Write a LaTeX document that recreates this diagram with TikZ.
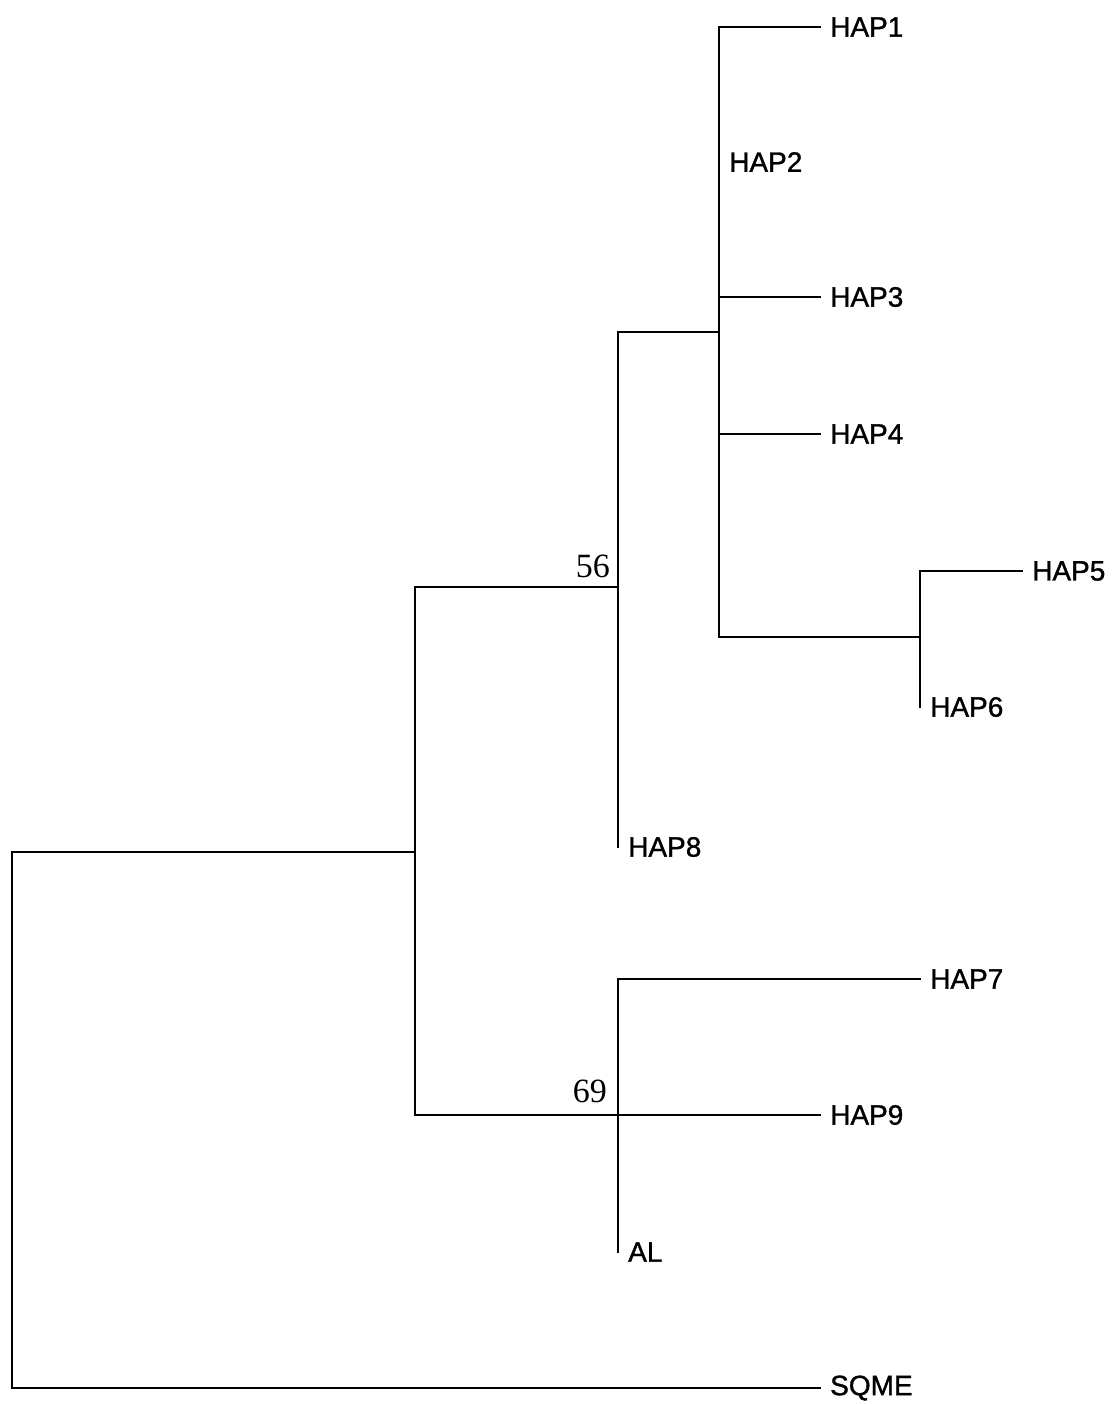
\documentclass[tikz,border=0pt]{standalone}
\usepackage{fontspec}
\setmainfont{Liberation Sans}
\newfontfamily\leaffont{Liberation Sans}[RawFeature={embolden=1.2}]
\newfontfamily\numfont{Liberation Serif}
\begin{document}
\begin{tikzpicture}[x=1pt,y=-1pt,
  branch/.style={line width=2.2pt, line cap=rect},
  leaf/.style={anchor=west, inner sep=0pt, font=\leaffont\fontsize{28}{28}\selectfont},
  support/.style={anchor=base east, inner sep=0pt, font=\numfont\fontsize{34}{34}\selectfont}]
\useasboundingbox (0,0) rectangle (1119,1404);
% internal nodes
\coordinate (root) at (12,852);
\coordinate (nA) at (415,852);
\coordinate (nB) at (618,587);
\coordinate (nC) at (719,332);
\coordinate (nD) at (920,637);
\coordinate (nE) at (618,1115);
% tips
\coordinate (t1) at (820,27);
\coordinate (t2) at (719,162);
\coordinate (t3) at (820,297);
\coordinate (t4) at (820,434);
\coordinate (t5) at (1022,571);
\coordinate (t6) at (920,707);
\coordinate (t8) at (618,847);
\coordinate (t7) at (920,979);
\coordinate (t9) at (820,1115);
\coordinate (tAL) at (618,1252);
\coordinate (tS) at (820,1388);
% labels
\node[leaf] (HAP1) at ([xshift=10pt]t1) {HAP1};
\node[leaf] (HAP2) at ([xshift=10pt]t2) {HAP2};
\node[leaf] (HAP3) at ([xshift=10pt]t3) {HAP3};
\node[leaf] (HAP4) at ([xshift=10pt]t4) {HAP4};
\node[leaf] (HAP5) at ([xshift=10pt]t5) {HAP5};
\node[leaf] (HAP6) at ([xshift=10pt]t6) {HAP6};
\node[leaf] (HAP8) at ([xshift=10pt]t8) {HAP8};
\node[leaf] (HAP7) at ([xshift=10pt]t7) {HAP7};
\node[leaf] (HAP9) at ([xshift=10pt]t9) {HAP9};
\node[leaf] (AL) at ([xshift=10pt]tAL) {AL};
\node[leaf] (SQME) at ([xshift=10pt]tS) {SQME};
\node[support] (s56) at (610,577) {56};
\node[support] (s69) at (607,1102) {69};
% branches
\draw[branch] (nA) -- (root) |- (tS);
\draw[branch] (nB) -| (nA) |- (nE);
\draw[branch] (nC) -| (nB) -- (t8);
\draw[branch] (t1) -| (nC) |- (nD);
\draw[branch] (nC) -- (t2);
\draw[branch] (nC |- t3) -- (t3);
\draw[branch] (nC |- t4) -- (t4);
\draw[branch] (t5) -| (nD) -- (t6);
\draw[branch] (t7) -| (nE) -- (tAL);
\draw[branch] (nE) -- (t9);
\end{tikzpicture}
\end{document}
